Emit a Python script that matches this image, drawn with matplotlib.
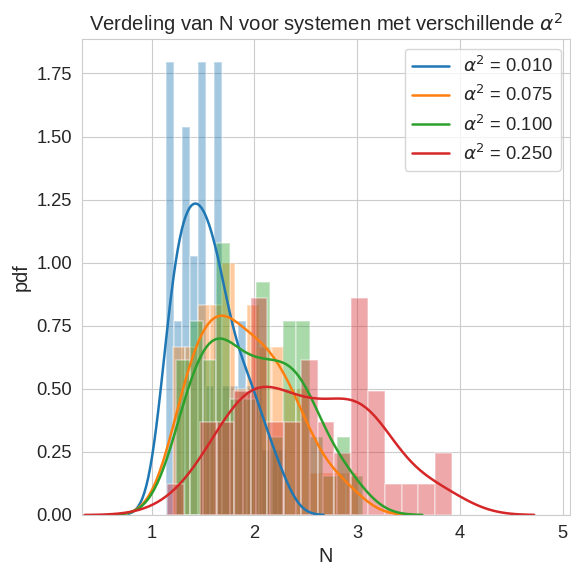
import numpy as np
import matplotlib.pyplot as plt
import seaborn as sns

sns.set_style("whitegrid")
plt.rcParams['font.family'] = ['Liberation Sans', 'DejaVu Sans']

# histogram data (50 systems per alpha^2)
alphas = ["0.010", "0.075", "0.100", "0.250"]
colors = ["#1f77b4", "#ff7f0e", "#2ca02c", "#d62728"]
bin_start = [1.140, 1.210, 1.240, 1.150]
bin_width = [0.078, 0.120, 0.130, 0.163]

counts_010 = [7, 3, 6, 4, 7, 2, 7, 2, 2, 3, 2, 2, 1, 1, 1, 0]
counts_075 = [4, 4, 5, 5, 6, 3, 5, 4, 4, 3, 3, 1, 1, 1, 1]
counts_100 = [4, 5, 4, 7, 3, 3, 6, 2, 5, 5, 2, 1, 2, 1]
counts_250 = [1, 0, 3, 3, 4, 7, 3, 3, 5, 3, 2, 7, 4, 1, 1, 1, 2]
all_counts = [counts_010, counts_075, counts_100, counts_250]


def kde(samples, grid):
    # gaussian kde with scott bandwidth
    n = len(samples)
    bw = samples.std(ddof=1) * n ** (-1 / 5)
    z = (grid[:, None] - samples[None, :]) / bw
    return np.exp(-0.5 * z ** 2).sum(axis=1) / (n * bw * np.sqrt(2 * np.pi)), bw


fig = plt.figure(figsize=(5.71, 5.65), dpi=100)
ax = fig.add_axes([0.143, 0.0885, 0.855, 0.8418])

for a, c, start, w, counts in zip(alphas, colors, bin_start, bin_width, all_counts):
    edges = start + w * np.arange(len(counts) + 1)
    centers = (edges[:-1] + edges[1:]) / 2
    samples = np.repeat(centers, counts)
    ax.hist(samples, bins=edges, density=True, color=c, alpha=0.4,
            edgecolor="white", linewidth=1.2)
    _, bw = kde(samples, np.array([0.0]))
    grid = np.linspace(samples.min() - 3 * bw, samples.max() + 3 * bw, 100)
    dens, _ = kde(samples, grid)
    ax.plot(grid, dens, color=c, lw=1.8, label=r"$\alpha^2$ = " + a)

ax.set_xlim(0.32, 5.07)
ax.set_ylim(0, 1.885)
ax.set_yticks(np.arange(0, 1.76, 0.25))
ax.tick_params(labelsize=13.2)
ax.set_xlabel("N", fontsize=14.4)
ax.set_ylabel("pdf", fontsize=14.4)
ax.set_title(r"Verdeling van N voor systemen met verschillende $\alpha^2$", fontsize=14.6)
ax.legend(loc="upper right", fontsize=13.2)

fig.savefig("out.png", dpi=100)
